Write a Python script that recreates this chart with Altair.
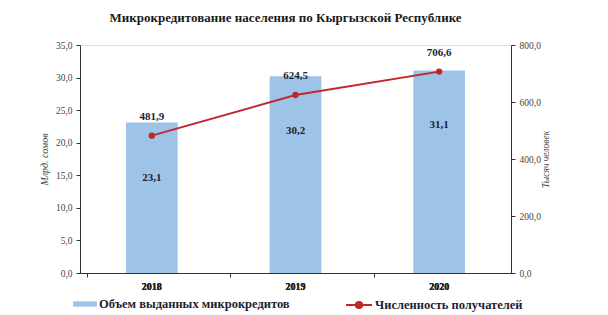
import altair as alt
import pandas as pd

years = ["2018", "2019", "2020"]
volume = [23.1, 30.2, 31.1]          # млрд сомов
recipients = [481.9, 624.5, 706.6]   # тыс. человек

bar_name = "Объем выданных микрокредитов"
line_name = "Численность получателей"

df = pd.DataFrame({
    "year": years,
    "volume": volume,
    "recipients": recipients,
    "s1": [bar_name] * 3,
    "s2": [line_name] * 3,
})

SERIF = "Liberation Serif"
BAR = "#9DC3E6"
RED = "#C0272D"
TXT = "#1B1E33"

base = alt.Chart(df).transform_calculate(
    vlab="replace(format(datum.volume, '.1f'), '.', ',')",
    rlab="replace(format(datum.recipients, '.1f'), '.', ',')",
)

x_lab = alt.X("year:N", title=None, axis=alt.Axis(
    orient="bottom", labelAngle=0, ticks=False, domain=True, domainColor="#333333",
    labelFont=SERIF, labelFontSize=10, labelFontWeight="bold", labelColor="#222222",
    labelPadding=8))

left_y = alt.Y("volume:Q", scale=alt.Scale(domain=[0, 35]), axis=alt.Axis(
    orient="left", values=[0, 5, 10, 15, 20, 25, 30, 35], grid=False,
    labelExpr="replace(format(datum.value, '.1f'), '.', ',')",
    labelFont=SERIF, labelFontSize=9.5, labelColor="#444444",
    tickColor="#333333", domainColor="#333333", tickSize=4, labelPadding=4,
    title="Млрд. сомов", titleFont=SERIF, titleFontSize=10, titleFontStyle="italic",
    titleFontWeight="normal", titleColor="#444444", titlePadding=6))

right_y = alt.Y("recipients:Q", scale=alt.Scale(domain=[0, 800]), axis=alt.Axis(
    orient="right", values=[0, 200, 400, 600, 800], grid=False,
    labelExpr="replace(format(datum.value, '.1f'), '.', ',')",
    labelFont=SERIF, labelFontSize=9.5, labelColor="#444444",
    tickColor="#333333", domainColor="#333333", tickSize=4, labelPadding=4,
    title="Тысяч человек", titleFont=SERIF, titleFontSize=9.5, titleFontStyle="italic",
    titleFontWeight="normal", titleColor="#444444", titlePadding=10, titleAngle=-90))

bars = base.mark_bar(width=alt.RelativeBandSize(0.4)).encode(
    x=x_lab,
    y=left_y,
    color=alt.Color("s1:N", scale=alt.Scale(range=[BAR]), legend=alt.Legend(
        title=None, orient="none", legendX=-7, legendY=247,
        symbolType="M-1,-0.22L1,-0.22L1,0.22L-1,0.22Z", symbolSize=576,
        symbolStrokeWidth=0, labelFont=SERIF, labelFontSize=12.5, labelLimit=400,
        labelFontWeight="bold", labelColor=TXT, labelOffset=2)),
)

# tick marks at category boundaries
ticks_layer = base.mark_bar(opacity=0).encode(
    x=alt.X("year:N", title=None, axis=alt.Axis(
        orient="bottom", bandPosition=0, labels=False, domain=False, ticks=True,
        tickSize=4, tickColor="#333333")),
    y=left_y,
)

bar_text = base.mark_text(font=SERIF, fontSize=11, fontWeight="bold",
                          color=TXT, baseline="middle", dy=55).encode(
    x=x_lab,
    y=left_y,
    text="vlab:N",
)

line = base.mark_line(strokeWidth=2).encode(
    x=x_lab,
    y=right_y,
    stroke=alt.Stroke("s2:N", scale=alt.Scale(range=[RED]), legend=alt.Legend(
        title=None, orient="none", legendX=265, legendY=246,
        symbolType="M-1,0L1,0M0.24,0A0.24,0.24 0 1,1 -0.24,0A0.24,0.24 0 1,1 0.24,0Z",
        symbolSize=676, symbolStrokeWidth=2, symbolFillColor=RED, labelLimit=400,
        labelFont=SERIF, labelFontSize=12.5, labelFontWeight="bold",
        labelColor=TXT, labelOffset=2)),
)

points = base.mark_point(filled=True, size=40, opacity=1, color=RED).encode(
    x=x_lab,
    y=right_y,
)

line_text = base.mark_text(font=SERIF, fontSize=11, fontWeight="bold",
                           color=TXT, baseline="middle", dy=-19).encode(
    x=x_lab,
    y=right_y,
    text="rlab:N",
)

left = alt.layer(bars, bar_text, ticks_layer).resolve_axis(x="independent")
right = alt.layer(line, points, line_text)

chart = alt.layer(left, right).resolve_scale(y="independent").properties(
    width=431, height=228,
    title=alt.TitleParams("Микрокредитование населения по Кыргызской Республике",
                          font=SERIF, fontSize=13, fontWeight="bold",
                          color="#1a1a1a", anchor="middle", dx=-10, offset=15),
    autosize=alt.AutoSizeParams(type="none"),
    padding={"left": 80, "top": 45, "right": 97, "bottom": 42},
).configure_view(stroke=None).configure(background="white", font=SERIF)

chart.save("out.html", embed_options={"renderer": "svg", "actions": False})
